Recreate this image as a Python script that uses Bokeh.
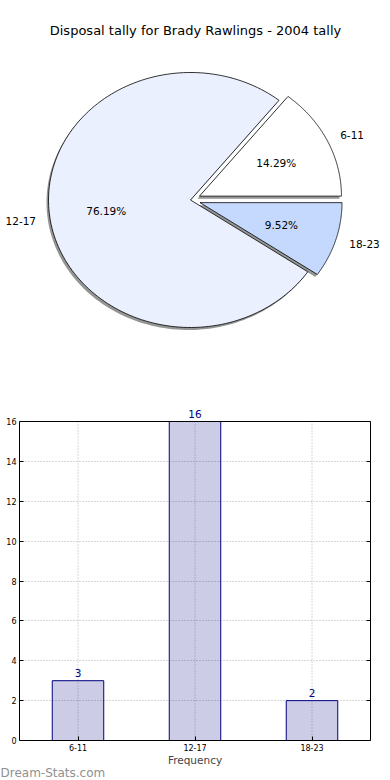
import numpy as np
from bokeh.plotting import figure
from bokeh.models import Range1d, FixedTicker, Title, LinearAxis, Span
from bokeh.core.properties import value
from bokeh.embed import file_html
from bokeh.resources import INLINE

# ---------------- data ----------------
title_text = "Disposal tally for Brady Rawlings - 2004 tally"
categories = ["6-11", "12-17", "18-23"]
counts = [3, 16, 2]
pie_colors = ["#ffffff", "#eaf0fe", "#c5d8fd"]
explode = [0.07, 0.0, 0.07]
y_ticks = [0, 2, 4, 6, 8, 10, 12, 14, 16]
x_label = "Frequency"
watermark = "Dream-Stats.com"

FONT = value("DejaVu Sans")
W = 390

# ---------------- pie figure ----------------
H1 = 400
p1 = figure(width=W, height=H1, x_range=Range1d(0, W), y_range=Range1d(0, H1),
            x_axis_type=None, y_axis_type=None, toolbar_location=None,
            output_backend="svg", min_border=0, outline_line_color=None)

cx, cy, rx, ry = 190.0, 200.5, 142.0, 127.5
sh_dx, sh_dy = -2.0, -2.5

total = float(sum(counts))
fracs = [c / total for c in counts]
starts = np.cumsum([0.0] + fracs[:-1]) * 2 * np.pi
ends = np.cumsum(fracs) * 2 * np.pi

wx, wy, sx, sy = [], [], [], []
lab_x, lab_y, lab_align = [], [], []
pct_x, pct_y, pct_t = [], [], []
for a0, a1, e, f in zip(starts, ends, explode, fracs):
    mid = 0.5 * (a0 + a1)
    ox = cx + e * rx * np.cos(mid)
    oy = cy + e * ry * np.sin(mid)
    th = np.linspace(a0, a1, 160)
    xs = [ox] + list(ox + rx * np.cos(th)) + [ox]
    ys = [oy] + list(oy + ry * np.sin(th)) + [oy]
    wx.append(xs)
    wy.append(ys)
    sx.append([v + sh_dx for v in xs])
    sy.append([v + sh_dy for v in ys])
    lab_x.append(ox + 1.1 * rx * np.cos(mid))
    lab_y.append(oy + 1.1 * ry * np.sin(mid))
    lab_align.append("left" if np.cos(mid) > 0 else "right")
    pct_x.append(ox + 0.6 * rx * np.cos(mid))
    pct_y.append(oy + 0.6 * ry * np.sin(mid))
    pct_t.append("%.2f%%" % (100 * f))

p1.patches(sx, sy, fill_color="#959595", line_color=None)
p1.patches(wx, wy, fill_color=pie_colors, line_color="black", line_width=0.8)

p1.text(x=lab_x, y=lab_y, text=categories, text_align=lab_align, text_baseline="middle",
        text_font=FONT, text_font_size="10.5px", text_color="black")
p1.text(x=pct_x, y=pct_y, text=pct_t, text_align="center", text_baseline="middle",
        text_font=FONT, text_font_size="10.5px", text_color="black")
p1.text(x=[195], y=[370], text=[title_text], text_align="center", text_baseline="middle",
        text_font=FONT, text_font_size="13px", text_color="black")

# ---------------- bar figure ----------------
BL, BR = 19, 20
H2 = 780 - H1
TOP_PAD = 21      # room above the axes box for value labels
FRAME_H = 319     # height of the axes box
idx = list(range(len(categories)))
ymin, ymax = y_ticks[0], y_ticks[-1]
px_per_unit = FRAME_H / (ymax - ymin)

p2 = figure(width=W, height=H2, x_range=Range1d(-0.5, len(categories) - 0.5),
            y_range=Range1d(ymin, ymax + TOP_PAD / px_per_unit), toolbar_location=None,
            output_backend="svg", min_border_left=BL, min_border_right=BR,
            min_border_top=0, min_border_bottom=H2 - FRAME_H - TOP_PAD)
p2.outline_line_color = None
p2.xgrid.visible = False

grid_kw = dict(line_color="#b0b0b0", line_dash="1 2", line_width=1)
p2.segment(x0=idx, y0=[ymin] * len(idx), x1=idx, y1=[ymax] * len(idx), **grid_kw)

p2.vbar(x=idx, top=counts, width=0.44, fill_color="navy", fill_alpha=0.2,
        line_color="navy", line_width=1)

p2.text(x=idx, y=counts, text=[str(c) for c in counts], y_offset=-4,
        text_align="center", text_baseline="bottom", text_font=FONT,
        text_font_size="10.5px", text_color="#000080")

# top edge of the axes box
p2.add_layout(Span(location=ymax, dimension="width", line_color="black", line_width=1))

p2.xaxis.ticker = FixedTicker(ticks=idx)
p2.xaxis.major_label_overrides = {i: c for i, c in zip(idx, categories)}
p2.yaxis.ticker = FixedTicker(ticks=y_ticks)
p2.yaxis.bounds = (ymin, ymax)

right_axis = LinearAxis(ticker=FixedTicker(ticks=y_ticks), bounds=(ymin, ymax),
                        major_label_overrides={t: "" for t in y_ticks})
p2.add_layout(right_axis, "right")

for ax in (p2.xaxis[0], p2.yaxis[0], right_axis):
    ax.major_tick_in = 4
    ax.major_tick_out = 0
    ax.minor_tick_in = 0
    ax.minor_tick_out = 0
    ax.axis_line_color = "black"
    ax.major_label_text_font = "DejaVu Sans"
    ax.major_label_text_font_size = "8px"
    ax.major_label_text_color = "black"
    ax.major_label_standoff = 3
right_axis.major_label_standoff = 0

p2.xaxis.axis_label = x_label
p2.xaxis.axis_label_text_font = "DejaVu Sans"
p2.xaxis.axis_label_text_font_size = "10.5px"
p2.xaxis.axis_label_text_font_style = "normal"
p2.xaxis.axis_label_standoff = 0

p2.ygrid.grid_line_color = "#b0b0b0"
p2.ygrid.grid_line_dash = "1 2"
p2.ygrid.grid_line_width = 1

p2.add_layout(Title(text=watermark, align="left", offset=-BL,
                    text_font="DejaVu Sans", text_font_size="12px", text_color="#909090",
                    text_font_style="normal", standoff=-10, text_line_height=0.9), "below")

open("out.html", "w").write(file_html([p1, p2], INLINE))
